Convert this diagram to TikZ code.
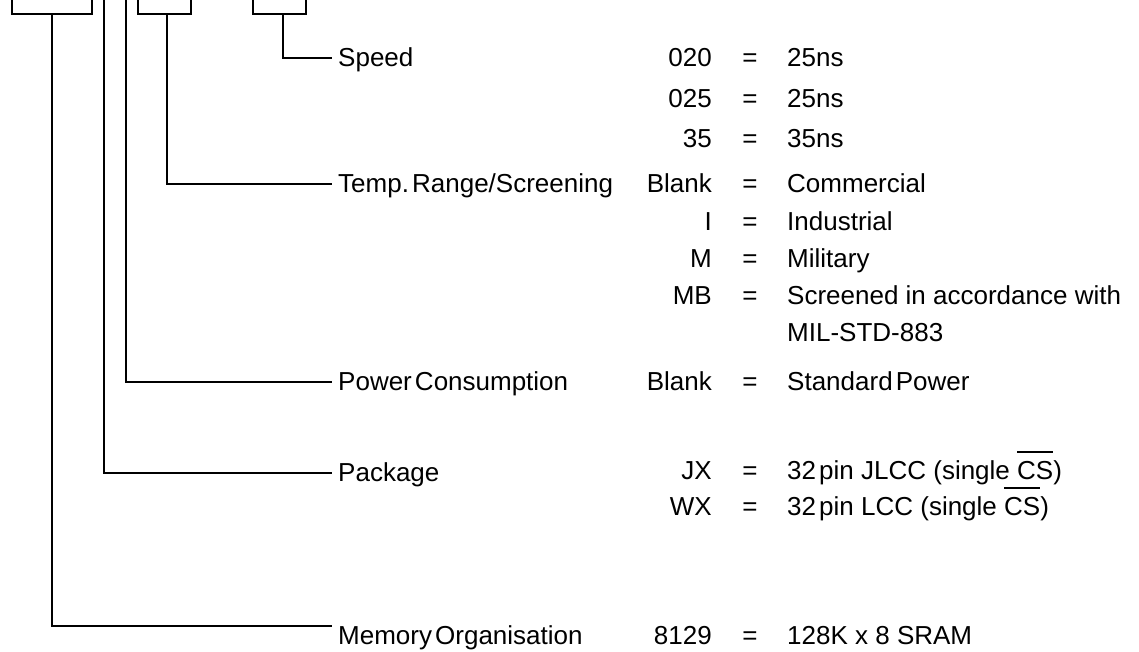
\documentclass[tikz,border=0pt]{standalone}
\usepackage{fontspec}
\setmainfont{Liberation Sans}
\newcommand{\tsp}{\hspace{0.12em}}
\newsavebox{\ovbox}
\newcommand{\ovl}[1]{\sbox{\ovbox}{#1}\rlap{\raisebox{26.5pt}{\rule{\wd\ovbox}{1.6pt}}}\usebox{\ovbox}}
\begin{document}
\begin{tikzpicture}[x=1pt,y=-1pt,
  wire/.style={line width=1.5pt,line cap=butt,line join=miter},
  txt/.style={inner sep=0pt,font=\fontsize{26}{31}\selectfont},
  lbl/.style={txt,anchor=base west},
  code/.style={txt,anchor=base east},
  eq/.style={txt,anchor=base},
  desc/.style={txt,anchor=base west}]
\useasboundingbox (0,0) rectangle (1139,651);
% top brackets
\draw[wire] (12,0) -- (12,14) -- (92,14) -- (92,0);
\draw[wire] (138,0) -- (138,14) -- (191,14) -- (191,0);
\draw[wire] (253,0) -- (253,14) -- (306,14) -- (306,0);
\coordinate (s1) at (52,14);
\coordinate (s2) at (104,0);
\coordinate (s3) at (126,0);
\coordinate (s4) at (167,14);
\coordinate (s5) at (283,14);
\coordinate (e1) at (332,626);
\coordinate (e2) at (332,473);
\coordinate (e3) at (332,382);
\coordinate (e4) at (332,184);
\coordinate (e5) at (332,58);
\draw[wire] (s5) |- (e5);
\draw[wire] (s4) |- (e4);
\draw[wire] (s3) |- (e3);
\draw[wire] (s2) |- (e2);
\draw[wire] (s1) |- (e1);
% labels
\node[lbl] (lspeed) at (338,66) {Speed};
\node[lbl] (ltemp) at (338,192) {Temp.\tsp Range/Screening};
\node[lbl] (lpow) at (338,390) {Power\tsp Consumption};
\node[lbl] (lpack) at (338,481) {Package};
\node[lbl] (lmem) at (338,644) {Memory\tsp Organisation};
% codes
\node[code] (c1) at (712,66) {020};  \node[eq] (q1) at (750,66) {=};  \node[desc] (d1) at (787,66) {25ns};
\node[code] (c2) at (712,107) {025}; \node[eq] (q2) at (750,107) {=}; \node[desc] (d2) at (787,107) {25ns};
\node[code] (c3) at (712,147) {35};  \node[eq] (q3) at (750,147) {=}; \node[desc] (d3) at (787,147) {35ns};
\node[code] (c4) at (712,192) {Blank}; \node[eq] (q4) at (750,192) {=}; \node[desc] (d4) at (787,192) {Commercial};
\node[code] (c5) at (712,230) {I};   \node[eq] (q5) at (750,230) {=}; \node[desc] (d5) at (787,230) {Industrial};
\node[code] (c6) at (712,267) {M};   \node[eq] (q6) at (750,267) {=}; \node[desc] (d6) at (787,267) {Military};
\node[code] (c7) at (712,304) {MB};  \node[eq] (q7) at (750,304) {=}; \node[desc] (d7) at (787,304) {Screened in accordance with};
\node[desc] (d7b) at (787,341) {MIL-STD-883};
\node[code] (c8) at (712,390) {Blank}; \node[eq] (q8) at (750,390) {=}; \node[desc] (d8) at (787,390) {Standard\tsp Power};
\node[code] (c9) at (712,479) {JX};  \node[eq] (q9) at (750,479) {=}; \node[desc] (d9) at (787,479) {32\tsp pin JLCC (single \ovl{CS})};
\node[code] (c10) at (712,515) {WX}; \node[eq] (q10) at (750,515) {=}; \node[desc] (d10) at (787,515) {32\tsp pin LCC (single \ovl{CS})};
\node[code] (c11) at (712,644) {8129}; \node[eq] (q11) at (750,644) {=}; \node[desc] (d11) at (787,644) {128K x 8 SRAM};
\end{tikzpicture}
\end{document}
